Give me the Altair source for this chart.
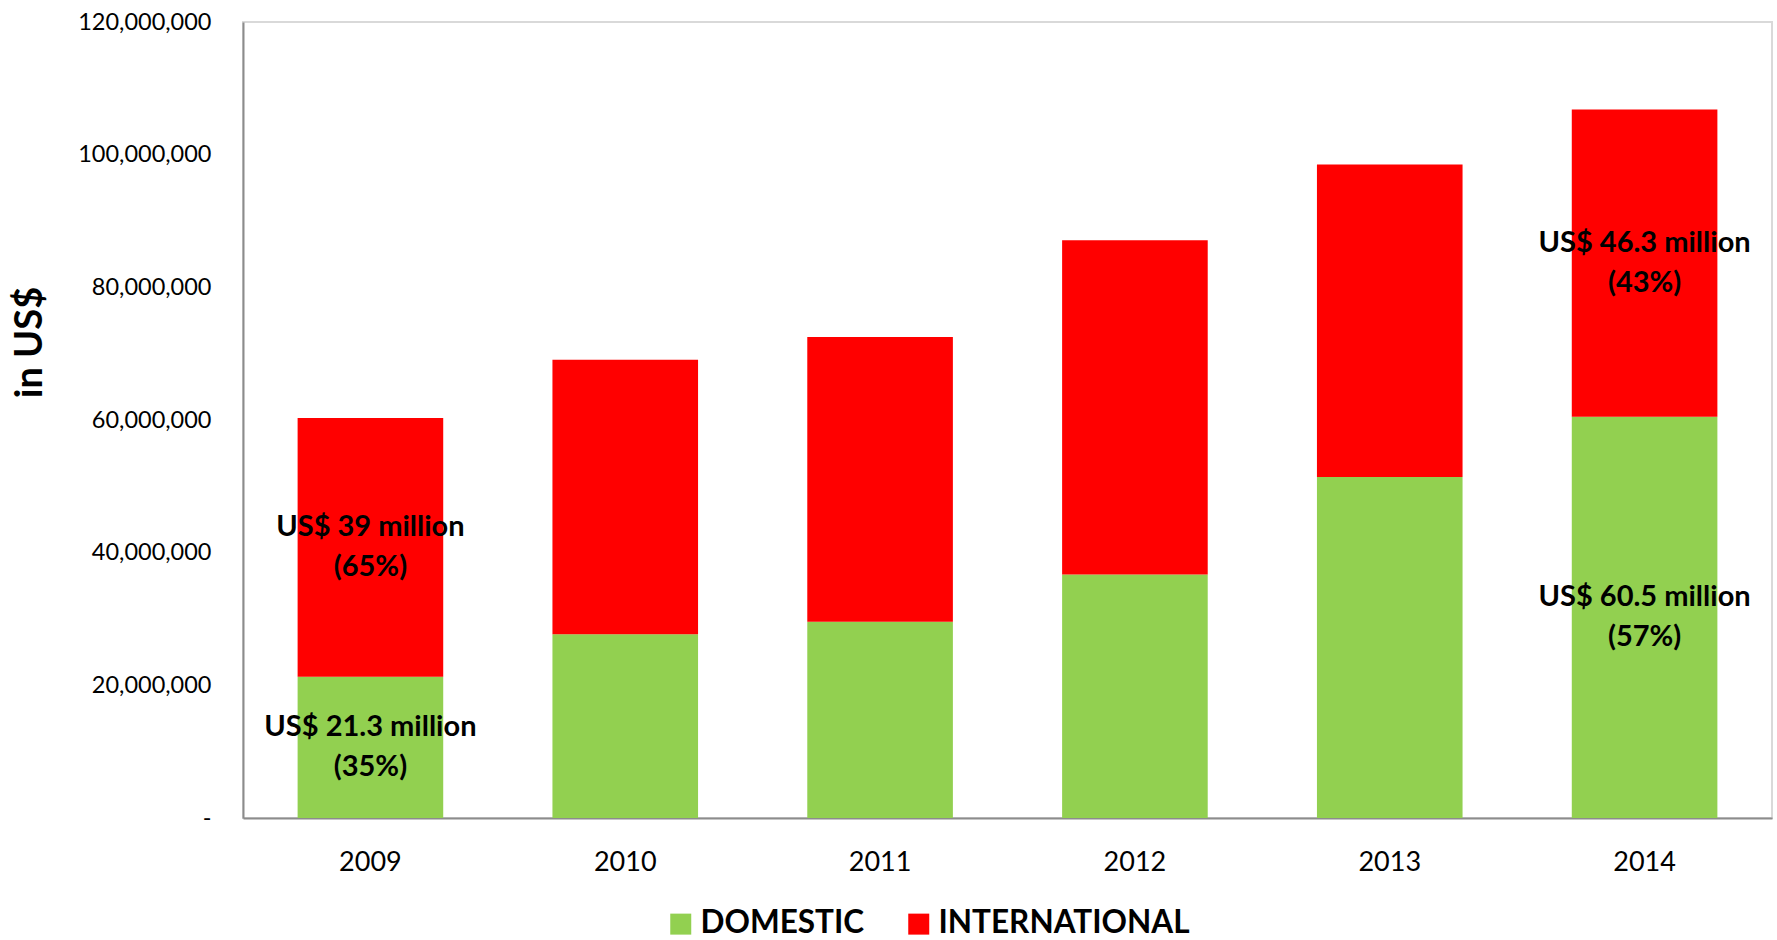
import altair as alt
import pandas as pd

# ---- data (US$) ----
years = ["2009", "2010", "2011", "2012", "2013", "2014"]
domestic = [21_300_000, 27_700_000, 29_600_000, 36_700_000, 51_400_000, 60_500_000]
international = [39_000_000, 41_400_000, 42_900_000, 50_400_000, 47_100_000, 46_300_000]
series_names = ["DOMESTIC", "INTERNATIONAL"]
series_colors = ["#92d050", "#ff0000"]
dom_labels = ["US$ 21.3 million\n(35%)", "", "", "", "", "US$ 60.5 million\n(57%)"]
intl_labels = ["US$ 39 million\n(65%)", "", "", "", "", "US$ 46.3 million\n(43%)"]
y_ticks = [0, 20_000_000, 40_000_000, 60_000_000, 80_000_000, 100_000_000, 120_000_000]

rows = []
for i, y in enumerate(years):
    rows.append({"year": y, "series": series_names[0], "value": domestic[i], "label": dom_labels[i], "order": 0})
    rows.append({"year": y, "series": series_names[1], "value": international[i], "label": intl_labels[i], "order": 1})
df = pd.DataFrame(rows)

FONT = "Lato"

x_enc = alt.X(
    "year:N",
    sort=years,
    scale=alt.Scale(paddingInner=0.4286, paddingOuter=0.2143),
    axis=alt.Axis(
        title=None, labelAngle=0, ticks=False, tickSize=0, labelFontSize=27,
        labelFont=FONT, labelColor="#000000", labelBaseline="middle", labelPadding=44,
        domainColor="#8c8c8c", domainWidth=2, grid=False,
    ),
)

y_enc = alt.Y(
    "value:Q",
    stack="zero",
    scale=alt.Scale(domain=[0, 120_000_000], nice=False),
    axis=alt.Axis(
        values=y_ticks,
        labelExpr="datum.value == 0 ? '-\u00a0\u00a0\u00a0' : format(datum.value, ',')",
        ticks=False, tickSize=0, grid=False,
        labelFont=FONT, labelFontSize=23.5, labelColor="#000000", labelPadding=32,
        domainColor="#8c8c8c", domainWidth=2,
        title="in US$", titleFont=FONT, titleFontSize=38, titleFontWeight="bold",
        titleColor="#000000", titleAngle=270, titleAlign="center", titleBaseline="middle",
        titleX=-213, titleY=320,
    ),
)

bars = alt.Chart(df).mark_bar().encode(
    x=x_enc,
    y=y_enc,
    color=alt.Color(
        "series:N",
        scale=alt.Scale(domain=series_names, range=series_colors),
        legend=alt.Legend(
            title=None, orient="none", legendX=422, legendY=886, direction="horizontal",
            symbolType="square", symbolSize=441, symbolStrokeWidth=0, symbolOpacity=1,
            labelFont=FONT, labelFontSize=31.5, labelFontWeight="bold", labelColor="#000000",
            labelOffset=4, columnPadding=38, padding=0, labelLimit=400,
        ),
    ),
    order=alt.Order("order:Q"),
)

labels = (
    alt.Chart(df)
    .transform_stack(stack="value", groupby=["year"], as_=["v0", "v1"], sort=[alt.SortField("order")])
    .transform_filter("datum.label != ''")
    .transform_calculate(mid="(datum.v0 + datum.v1) / 2")
    .mark_text(font=FONT, fontSize=29, fontWeight="bold", color="#000000",
               lineBreak="\n", lineHeight=40, align="center", baseline="middle", dy=-20)
    .encode(
        x=alt.X("year:N", sort=years),
        y=alt.Y("mid:Q"),
        text="label:N",
    )
)

chart = (
    alt.layer(bars, labels)
    .properties(
        width=1529, height=796,
        autosize=alt.AutoSizeParams(type="none"),
        padding={"left": 243, "top": 22, "right": 5, "bottom": 122},
        background="#ffffff",
    )
    .configure_view(stroke="#d9d9d9", strokeWidth=2)
)

chart.save("out.html", embed_options={"renderer": "svg", "actions": False})
